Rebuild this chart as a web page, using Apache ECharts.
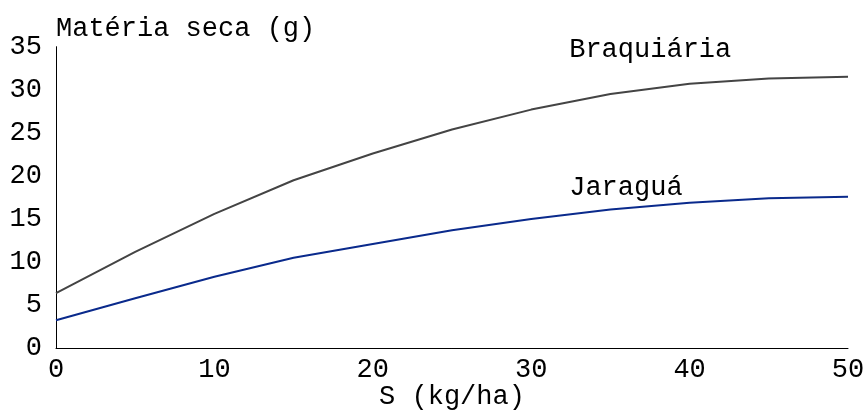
<!DOCTYPE html>
<html><head><meta charset="utf-8">
<script src="https://cdn.jsdelivr.net/npm/echarts@6/dist/echarts.min.js"></script>
<style>html,body{margin:0;padding:0;background:#fff}#c{width:867px;height:414px}</style>
</head><body><div id="c"></div>
<script>
var xValues = [0, 5, 10, 15, 20, 25, 30, 35, 40, 45, 50];
var braquiaria = [6.4, 11.2, 15.6, 19.5, 22.6, 25.4, 27.7, 29.5, 30.7, 31.3, 31.5];
var jaragua = [3.25, 5.8, 8.3, 10.5, 12.1, 13.7, 15.0, 16.1, 16.9, 17.4, 17.6];
var seriesNames = ['Braquiária', 'Jaraguá'];
var labelPos = [[32.4, 33.1], [32.4, 17.1]];
var xTitle = 'S (kg/ha)';
var yTitle = 'Matéria seca (g)';

function pairs(xs, ys){ return xs.map(function(x,i){ return [x, ys[i]]; }); }
var FONT = '"Liberation Mono", "DejaVu Sans Mono", monospace';
var FS = 27;
var chart = echarts.init(document.getElementById('c'));
chart.setOption({
  animation: false,
  grid: { left: 56, right: 19, top: 46.7, bottom: 65.7, containLabel: false, outerBoundsMode: 'none' },
  xAxis: { type: 'value', min: 0, max: 50, interval: 10,
    name: xTitle, nameLocation: 'middle', nameGap: 35, nameMoveOverlap: false,
    nameTextStyle: { color: '#000', fontFamily: FONT, fontSize: FS },
    axisLine: { lineStyle: { color: '#000', width: 1 } }, axisTick: { show: false },
    splitLine: { show: false },
    axisLabel: { color: '#000', fontFamily: FONT, fontSize: FS, margin: 8 } },
  yAxis: { type: 'value', min: 0, max: 35, interval: 5,
    name: yTitle, nameLocation: 'end', nameGap: 4, nameMoveOverlap: false,
    nameTextStyle: { color: '#000', fontFamily: FONT, fontSize: FS, align: 'left', verticalAlign: 'bottom' },
    axisLine: { show: true, lineStyle: { color: '#000', width: 1 } }, axisTick: { show: false },
    splitLine: { show: false },
    axisLabel: { color: '#000', fontFamily: FONT, fontSize: FS, margin: 14 } },
  series: [
    { name: seriesNames[0], type: 'line', data: pairs(xValues, braquiaria), showSymbol: false,
      lineStyle: { color: '#444444', width: 2 } },
    { name: seriesNames[1], type: 'line', data: pairs(xValues, jaragua), showSymbol: false,
      lineStyle: { color: '#0a2a8c', width: 2 } }
  ]
});
var texts = seriesNames.map(function(name, i){
  var p = chart.convertToPixel({ gridIndex: 0 }, labelPos[i]);
  return { type: 'text', x: p[0], y: p[1], silent: true,
    style: { text: name, fill: '#000', font: FS + 'px ' + FONT, textAlign: 'left', textVerticalAlign: 'bottom' } };
});
chart.setOption({ graphic: texts });
</script></body></html>
